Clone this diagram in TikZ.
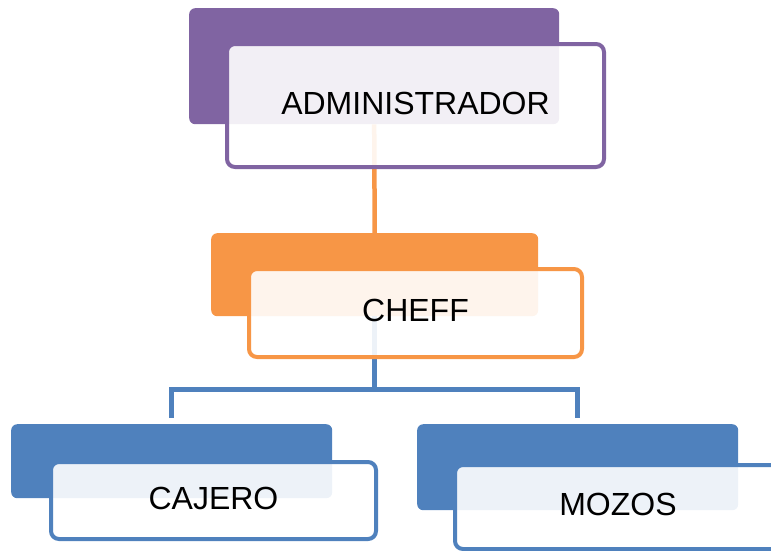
\documentclass[tikz,border=0pt]{standalone}
\usepackage{fontspec}
\setmainfont{Liberation Sans}
\definecolor{purp}{HTML}{8064A2}
\definecolor{oran}{HTML}{F79646}
\definecolor{blu}{HTML}{4F81BD}
\begin{document}
\begin{tikzpicture}[x=1pt,y=-1pt,
  back/.style={rectangle, rounded corners=6pt, anchor=north west, inner sep=0pt, draw=none},
  front/.style={rectangle, rounded corners=8pt, anchor=north west, inner sep=0pt,
    line width=4pt, fill=white, fill opacity=0.9, text opacity=1, text depth=5pt,
    font=\fontsize{32}{36}\selectfont},
  link/.style={line width=4.5pt}]
\useasboundingbox (0,0) rectangle (771,550);

% coloured back panels
\node[back, fill=purp, minimum width=370pt, minimum height=116pt] (adminback) at (189,8) {};
\node[back, fill=oran, minimum width=327pt, minimum height=83pt] (cheffback) at (211,233) {};
\node[back, fill=blu, minimum width=321pt, minimum height=74pt] (cajeroback) at (11,424) {};
\node[back, fill=blu, minimum width=321pt, minimum height=86pt] (mozosback) at (417,424) {};

% connectors
\draw[link, oran] (adminback.south) -- (cheffback.north);
\draw[link, blu, shorten >=6pt] (cheffback.south) -- ++(0,73) -| (cajeroback.north);
\draw[link, blu, shorten >=6pt] (cheffback.south) -- ++(0,73) -| (mozosback.north);

% framed label boxes
\node[front, draw=purp, minimum width=377pt, minimum height=123pt] (admin) at (225,42) {ADMINISTRADOR};
\node[front, draw=oran, minimum width=333pt, minimum height=88pt] (cheff) at (247,267) {CHEFF};
\node[front, draw=blu, minimum width=325pt, minimum height=77pt] (cajero) at (49,460) {CAJERO};
\node[front, draw=blu, minimum width=326pt, minimum height=84pt] (mozos) at (453,463) {MOZOS};
\end{tikzpicture}
\end{document}
